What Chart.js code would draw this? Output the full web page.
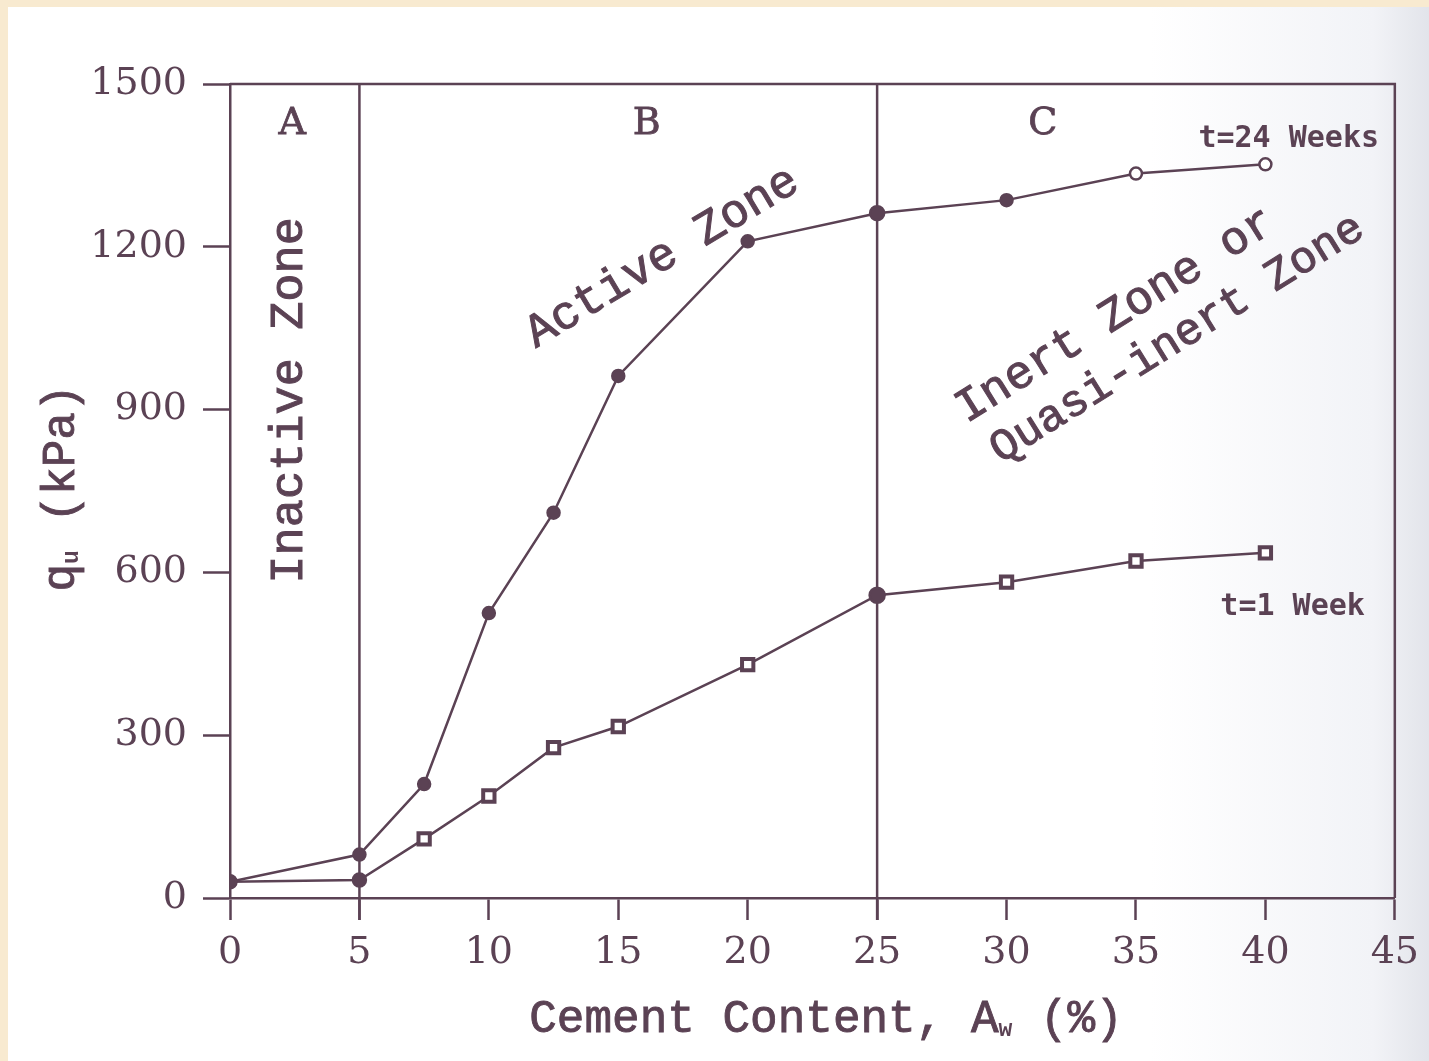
<!DOCTYPE html>
<html>
<head>
<meta charset="utf-8">
<script src="https://cdn.jsdelivr.net/npm/chart.js@4.4.1/dist/chart.umd.min.js"></script>
<style>
  html, body { margin: 0; padding: 0; background: #f8ead0; }
  #wrap { width: 1429px; height: 1061px; position: relative; }
</style>
</head>
<body>
<div id="wrap"><canvas id="qChart" width="1429" height="1061"></canvas></div>
<script>
let cement = [0, 5, 7.5, 10, 12.5, 15, 20, 25, 30, 35, 40];
let week24 = [30, 80, 210, 525, 710, 962, 1210, 1262, 1286, 1335, 1352];
let week1 = [30, 33, 109, 188, 277, 316, 430, 558, 582, 621, 636];
let xTicks = [0, 5, 10, 15, 20, 25, 30, 35, 40, 45];
let yTicks = [0, 300, 600, 900, 1200, 1500];
let zoneLines = [5, 25];
let zoneLetters = ['A', 'B', 'C'];

const ink = '#5b4254';
const monoFont = '"Liberation Mono", "DejaVu Sans Mono", monospace';

// page look: beige strips, white paper greying towards the right
const paperPlugin = {
  id: 'paper',
  beforeDraw(chart) {
    const c = chart.ctx;
    c.save();
    c.fillStyle = '#f8ead0';
    c.fillRect(0, 0, chart.width, chart.height);
    let g = c.createLinearGradient(1150, 0, chart.width, 0);
    g.addColorStop(0, '#ffffff');
    g.addColorStop(0.8, '#f2f3f7');
    g.addColorStop(1, '#e2e4ea');
    c.fillStyle = g;
    c.fillRect(8, 7, chart.width - 8, chart.height - 7);
    c.restore();
  }
};

function putText(c, txt, px, py, angle, font, thick) {
  c.save();
  c.translate(px, py);
  c.rotate(angle * Math.PI / 180);
  c.font = font;
  c.fillStyle = ink;
  c.strokeStyle = ink;
  c.textAlign = 'center';
  c.textBaseline = 'middle';
  c.fillText(txt, 0, 0);
  if (thick) {
    c.lineWidth = thick;
    c.strokeText(txt, 0, 0);
  }
  c.restore();
}

// text with one subscript: main, sub, rest
function putSubText(c, parts, px, py, angle, size) {
  c.save();
  c.translate(px, py);
  c.rotate(angle * Math.PI / 180);
  c.fillStyle = ink;
  c.strokeStyle = ink;
  c.lineWidth = 0.9;
  c.textBaseline = 'middle';
  const big = size + 'px ' + monoFont;
  const small = 'bold ' + Math.round(size * 0.5) + 'px ' + monoFont;
  c.font = big;
  let w1 = c.measureText(parts[0]).width;
  let w3 = c.measureText(parts[2]).width;
  c.font = small;
  let w2 = c.measureText(parts[1]).width;
  let x = -(w1 + w2 + w3) / 2;
  c.font = big;
  c.fillText(parts[0], x, 0);
  c.strokeText(parts[0], x, 0);
  c.font = small;
  c.fillText(parts[1], x + w1, size * 0.22);
  c.font = big;
  c.fillText(parts[2], x + w1 + w2, 0);
  c.strokeText(parts[2], x + w1 + w2, 0);
  c.restore();
}

const zonesPlugin = {
  id: 'zones',
  beforeDatasetsDraw(chart) {
    const c = chart.ctx;
    const xs = chart.scales.x;
    const a = chart.chartArea;
    c.save();
    c.strokeStyle = ink;
    c.lineWidth = 2.5;
    zoneLines.forEach(v => {
      let px = xs.getPixelForValue(v);
      c.beginPath();
      c.moveTo(px, a.top);
      c.lineTo(px, a.bottom + 22);
      c.stroke();
    });
    c.beginPath();
    c.moveTo(a.left, a.top);
    c.lineTo(a.right, a.top);
    c.lineTo(a.right, a.bottom);
    c.stroke();
    c.restore();
  },
  afterDatasetsDraw(chart) {
    const c = chart.ctx;
    const xs = chart.scales.x, ys = chart.scales.y;
    const X = v => xs.getPixelForValue(v), Y = v => ys.getPixelForValue(v);
    const letterX = [2.4, 16.1, 31.4];
    zoneLetters.forEach((t, i) => putText(c, t, X(letterX[i]), Y(1426), 0, '38px "DejaVu Serif"', 0.8));
    putText(c, 'Inactive Zone', X(2.3), Y(917), -90, '47px ' + monoFont, 1);
    putText(c, 'Active Zone', X(16.7), Y(1180), -31, '47px ' + monoFont, 1);
    putText(c, 'Inert Zone or', X(34.2), Y(1073), -32, '47px ' + monoFont, 1);
    putText(c, 'Quasi-inert Zone', X(36.6), Y(1030), -32, '45px ' + monoFont, 1);
    putText(c, 't=24 Weeks', X(40.9), Y(1398), 0, 'bold 30px "DejaVu Sans Mono"');
    putText(c, 't=1 Week', X(41.05), Y(536), 0, 'bold 30px "DejaVu Sans Mono"');
    // axis titles
    putSubText(c, ['Cement Content, A', 'w', ' (%)'], 826, 1020, 0, 46);
    putSubText(c, ['q', 'u', ' (kPa)'], 62, 488, -90, 46);
  }
};

let lineData = {
  labels: cement,
  datasets: [
    {
      label: 't=24 Weeks',
      data: cement.map((x, i) => ({ x: x, y: week24[i] })),
      borderColor: ink,
      borderWidth: 2.5,
      pointStyle: 'circle',
      pointRadius: ctx => ctx.dataIndex === 7 ? 7 : 6,
      pointBorderWidth: 2.5,
      pointBorderColor: ink,
      pointBackgroundColor: ctx => ctx.dataIndex >= 9 ? '#ffffff' : ink,
      tension: 0
    },
    {
      label: 't=1 Week',
      data: cement.map((x, i) => ({ x: x, y: week1[i] })),
      borderColor: ink,
      borderWidth: 2.5,
      pointStyle: ctx => (ctx.dataIndex < 2 || ctx.dataIndex === 7) ? 'circle' : 'rect',
      pointRadius: ctx => ctx.dataIndex === 7 ? 7.5 : (ctx.dataIndex < 2 ? 6.5 : 8),
      pointBorderWidth: ctx => ctx.dataIndex < 2 || ctx.dataIndex === 7 ? 2.5 : 4,
      pointBorderColor: ink,
      pointBackgroundColor: ctx => (ctx.dataIndex < 2 || ctx.dataIndex === 7) ? ink : '#ffffff',
      tension: 0
    }
  ]
};

let tickFont = { family: '"DejaVu Serif"', size: 38 };

let chartOptions = {
  responsive: false,
  animation: false,
  layout: { padding: { top: 84, right: 0, bottom: 0, left: 0 } },
  plugins: {
    legend: { display: false },
    tooltip: { enabled: false }
  },
  scales: {
    x: {
      type: 'linear',
      min: 0,
      max: 45,
      afterFit: s => { s.height = 163; },
      afterBuildTicks: s => { s.ticks = xTicks.map(v => ({ value: v })); },
      grid: { drawOnChartArea: false, tickLength: 22, tickColor: ink, tickWidth: 2.5 },
      border: { display: true, color: ink, width: 2.5 },
      ticks: { color: ink, padding: 10, font: tickFont, callback: v => String(v) }
    },
    y: {
      min: 0,
      max: 1500,
      afterFit: s => { s.width = 230; },
      afterBuildTicks: s => { s.ticks = yTicks.map(v => ({ value: v })); },
      grid: { drawOnChartArea: false, tickLength: 27, tickColor: ink, tickWidth: 2.5 },
      border: { display: true, color: ink, width: 2.5 },
      ticks: { color: ink, padding: 16, font: tickFont, callback: v => String(v) }
    }
  }
};

new Chart(document.getElementById('qChart').getContext('2d'), {
  type: 'line',
  data: lineData,
  options: chartOptions,
  plugins: [paperPlugin, zonesPlugin]
});
</script>
</body>
</html>
